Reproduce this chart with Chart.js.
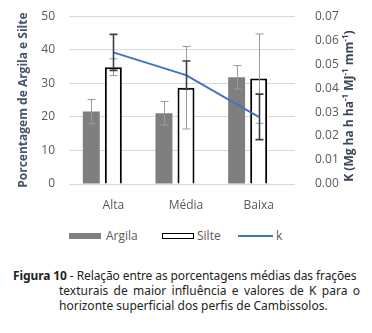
<!DOCTYPE html>
<html>
<head>
<meta charset="utf-8">
<script src="https://cdn.jsdelivr.net/npm/chart.js@4"></script>
<style>
  body { margin: 0; background: #fff; width: 372px; height: 333px; position: relative; overflow: hidden; }
  #chart { position: absolute; left: 0; top: -5px; }
  .leg { position: absolute; font-family: "Open Sans", sans-serif; font-size: 12px; color: #595959; }
  .cap { position: absolute; font-family: "Noto Sans", sans-serif; font-size: 12px; color: #231f20; white-space: nowrap; }
  .just { text-align: justify; text-align-last: justify; white-space: normal; }
</style>
</head>
<body>
<canvas id="chart" width="372" height="220"></canvas>

<!-- legend -->
<div style="position:absolute;left:69px;top:233px;width:32px;height:6px;background:#7f7f7f"></div>
<div class="leg" style="left:106px;top:227px">Argila</div>
<div style="position:absolute;left:162px;top:233px;width:30px;height:4px;border:1.5px solid #000"></div>
<div class="leg" style="left:197px;top:227px">Silte</div>
<div style="position:absolute;left:238px;top:235px;width:35px;height:2px;background:#4472c4"></div>
<div class="leg" style="left:276px;top:227px">k</div>

<!-- caption -->
<div class="cap" style="left:13px;top:267px;letter-spacing:-0.1px"><b>Figura 10</b> - Relação entre as porcentagens médias das frações</div>
<div class="cap just" style="left:59px;top:282px;width:301px">texturais de maior influência e valores de K para o</div>
<div class="cap" style="left:59px;top:297px">horizonte superficial dos perfis de Cambissolos.</div>

<script>
// --- Data ---
const categories = ["Alta", "Média", "Baixa"];
const argila = [21.6, 21.1, 31.8];
const argilaErr = [3.6, 3.5, 3.5];
const silte = [34.8, 28.7, 31.4];
const silteErr = [2.5, 12.3, 13.3];
const kValues = [0.0549, 0.0454, 0.0280];
const kErr = [0.0075, 0.0059, 0.0095];
const leftTicks = [0, 10, 20, 30, 40, 50];
const rightTicks = [0, 0.01, 0.02, 0.03, 0.04, 0.05, 0.06, 0.07];

// --- Error bars drawn through the scales ---
const errorBars = {
    id: 'errorBars',
    afterDatasetsDraw(chart) {
        const ctx = chart.ctx;
        chart.data.datasets.forEach((ds, i) => {
            if (!ds.errors) return;
            const meta = chart.getDatasetMeta(i);
            const scale = chart.scales[ds.yAxisID];
            ctx.save();
            ctx.strokeStyle = ds.errColor;
            ctx.lineWidth = ds.errWidth;
            meta.data.forEach((el, j) => {
                const v = ds.data[j], e = ds.errors[j];
                const x = Math.round(el.x) + 0.5;
                const top = scale.getPixelForValue(v + e);
                const bot = scale.getPixelForValue(v - e);
                ctx.beginPath();
                ctx.moveTo(x, top); ctx.lineTo(x, bot);
                ctx.moveTo(x - 4, top); ctx.lineTo(x + 4, top);
                ctx.moveTo(x - 4, bot); ctx.lineTo(x + 4, bot);
                ctx.stroke();
            });
            ctx.restore();
        });
    }
};

// --- Right axis title with superscripts ---
const rightTitle = {
    id: 'rightTitle',
    afterDraw(chart) {
        const ctx = chart.ctx;
        const parts = [["K (Mg ha h ha", 0], ["-1", 1], [" MJ", 0], ["-1", 1], [" mm", 0], ["-1", 1], [")", 0]];
        const big = 'bold 12px "Open Sans"', small = 'bold 8px "Open Sans"';
        let total = 0;
        parts.forEach(p => { ctx.font = p[1] ? small : big; total += ctx.measureText(p[0]).width; });
        ctx.save();
        ctx.translate(353, (chart.chartArea.top + chart.chartArea.bottom) / 2 + 6);
        ctx.rotate(-Math.PI / 2);
        ctx.fillStyle = '#3b4556';
        ctx.textBaseline = 'alphabetic';
        let x = -total / 2;
        parts.forEach(p => {
            ctx.font = p[1] ? small : big;
            ctx.fillText(p[0], x, p[1] ? -5 : 0);
            x += ctx.measureText(p[0]).width;
        });
        ctx.restore();
    }
};

new Chart(document.getElementById('chart'), {
    data: {
        labels: categories,
        datasets: [
            {type: 'bar', label: 'Argila', data: argila, errors: argilaErr, errColor: '#9a9a9a', errWidth: 1,
             backgroundColor: '#7f7f7f', yAxisID: 'y', order: 2},
            {type: 'bar', label: 'Silte', data: silte, errors: silteErr, errColor: '#9a9a9a', errWidth: 1,
             backgroundColor: '#ffffff', borderColor: '#000000', borderWidth: 2, yAxisID: 'y', order: 2},
            {type: 'bar', label: '', data: [null, null, null], yAxisID: 'y', order: 2},
            {type: 'line', label: 'k', data: kValues, errors: kErr, errColor: '#3a3f4a', errWidth: 1.6,
             borderColor: '#4472c4', borderWidth: 2, pointRadius: 0, tension: 0, yAxisID: 'y1', order: 1}
        ]
    },
    options: {
        responsive: false,
        animation: false,
        devicePixelRatio: 1,
        layout: { padding: { top: 12, left: 16, right: 0, bottom: 0 } },
        datasets: { bar: { categoryPercentage: 0.91, barPercentage: 0.77 } },
        plugins: { legend: { display: false }, tooltip: { enabled: false } },
        scales: {
            x: {
                grid: { display: false },
                border: { display: false },
                ticks: { color: '#595959', font: { family: 'Open Sans', size: 12 }, padding: 6 },
                afterFit: s => { s.height = 31; }
            },
            y: {
                position: 'left', min: 0, max: 50,
                afterBuildTicks: s => { s.ticks = leftTicks.map(v => ({value: v})); },
                grid: { color: '#d9d9d9' },
                border: { display: false },
                ticks: { color: '#595959', font: { family: 'Open Sans', size: 12 }, padding: 14 },
                title: { display: true, text: 'Porcentagem de Argila e Silte', color: '#44546a',
                         font: { family: 'Open Sans', size: 12, weight: 'bold' }, padding: 0 },
                afterFit: s => { s.width = 61; }
            },
            y1: {
                position: 'right', min: 0, max: 0.07,
                afterBuildTicks: s => { s.ticks = rightTicks.map(v => ({value: v})); },
                grid: { drawOnChartArea: false, display: false },
                border: { display: false },
                ticks: { color: '#595959', font: { family: 'Open Sans', size: 12 }, padding: 12,
                         callback: v => Number(v).toFixed(2) },
                afterFit: s => { s.width = 77; }
            }
        }
    },
    plugins: [errorBars, rightTitle]
});
</script>
</body>
</html>
